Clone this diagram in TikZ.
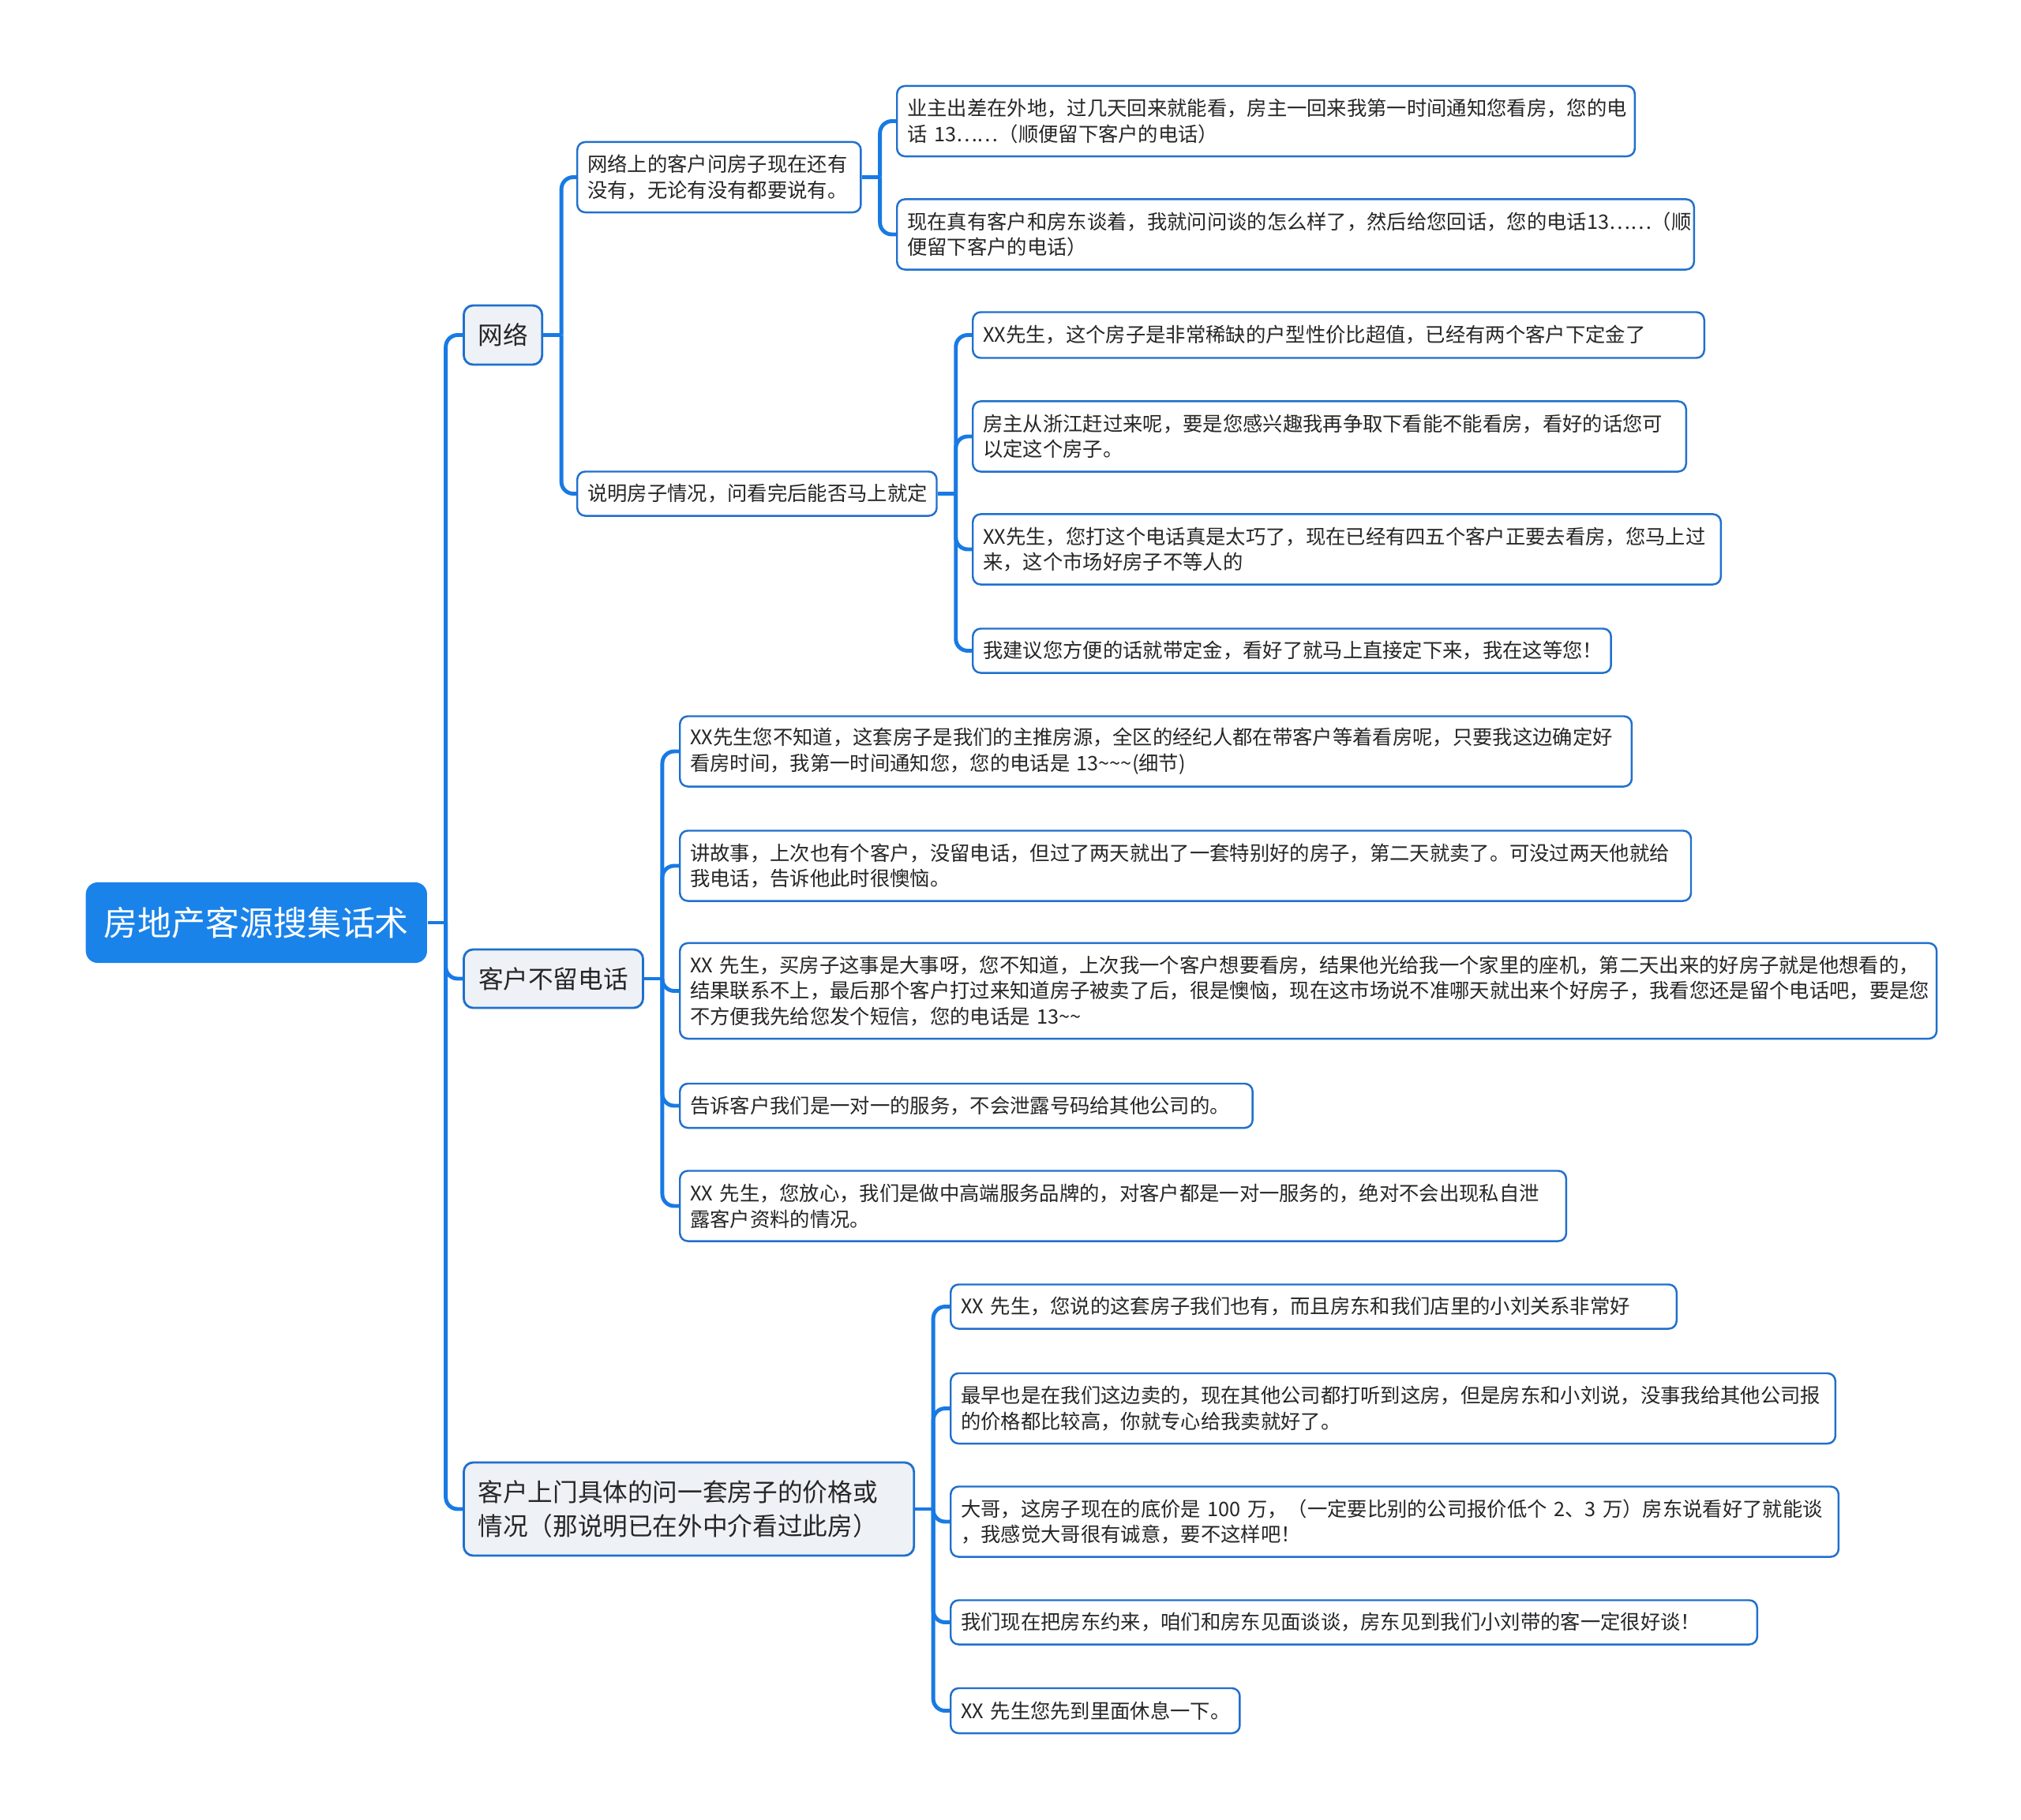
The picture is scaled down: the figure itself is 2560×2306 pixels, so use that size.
\documentclass[tikz,border=0pt]{standalone}
\usepackage{fontspec}
\setmainfont{Noto Sans CJK SC}
\definecolor{linkblue}{RGB}{24,122,228}
\definecolor{rootblue}{RGB}{26,131,234}
\definecolor{boxblue}{RGB}{32,112,204}
\definecolor{topicgray}{RGB}{238,242,247}
\newcommand{\tld}{\textasciitilde}
\begin{document}
\begin{tikzpicture}[x=0.01cm, y=-0.01cm,
    link/.style={line width=1.4pt, draw=linkblue},
    root/.style={fill=rootblue, text=white, rounded corners=0.15cm, inner sep=0pt,
      minimum width=4.32cm, minimum height=1.02cm, anchor=west,
      font=\fontsize{12.2}{15}\selectfont},
    topic/.style={draw=boxblue, line width=0.8pt, fill=topicgray, rounded corners=0.12cm,
      inner xsep=0.18cm, inner ysep=0pt, align=left, anchor=west, text=black!85,
      font=\fontsize{9}{12.1}\selectfont},
    leaf/.style={draw=boxblue, line width=0.7pt, fill=white, rounded corners=0.1cm,
      inner xsep=0.13cm, inner ysep=0pt, align=left, anchor=west, text=black!85,
      font=\fontsize{7.2}{9.3}\selectfont}]
  \useasboundingbox (0,0) rectangle (2560,2306);

  \node[root] (root) at (108,1169) {房地产客源搜集话术};

  \node[topic, minimum width=0.98cm, minimum height=0.75cm] (l1) at (586,424.5) {网络};
  \node[topic, minimum width=2.27cm, minimum height=0.74cm] (l2) at (586,1240) {客户不留电话};
  \node[topic, text width=5.34cm, minimum height=1.18cm] (l3) at (586,1912)
    {客户上门具体的问一套房子的价格或\\情况（那说明已在外中介看过此房）};

  \node[leaf, text width=3.33cm, minimum height=0.89cm] (n1) at (730,224.5)
    {网络上的客户问房子现在还有\\没有，无论有没有都要说有。};
  \node[leaf, text width=4.29cm, minimum height=0.56cm] (n2) at (730,625.5)
    {说明房子情况，问看完后能否马上就定};

  \node[leaf, text width=9.08cm, minimum height=0.89cm] (a1) at (1135,153.5)
    {业主出差在外地，过几天回来就能看，房主一回来我第一时间通知您看房，您的电\\话~13……（顺便留下客户的电话）};
  \node[leaf, text width=9.83cm, minimum height=0.89cm] (a2) at (1135,297)
    {现在真有客户和房东谈着，我就问问谈的怎么样了，然后给您回话，您的电话13……（顺\\便留下客户的电话）};

  \node[leaf, text width=9.00cm, minimum height=0.58cm] (b1) at (1231,424.5)
    {XX先生，这个房子是非常稀缺的户型性价比超值，已经有两个客户下定金了};
  \node[leaf, text width=8.77cm, minimum height=0.89cm] (b2) at (1231,553)
    {房主从浙江赶过来呢，要是您感兴趣我再争取下看能不能看房，看好的话您可\\以定这个房子。};
  \node[leaf, text width=9.21cm, minimum height=0.89cm] (b3) at (1231,696)
    {XX先生，您打这个电话真是太巧了，现在已经有四五个客户正要去看房，您马上过\\来，这个市场好房子不等人的};
  \node[leaf, text width=7.82cm, minimum height=0.56cm] (b4) at (1231,824.5)
    {我建议您方便的话就带定金，看好了就马上直接定下来，我在这等您！};

  \node[leaf, text width=11.79cm, minimum height=0.89cm] (c1) at (860,952)
    {XX先生您不知道，这套房子是我们的主推房源，全区的经纪人都在带客户等着看房呢，只要我这边确定好\\看房时间，我第一时间通知您，您的电话是~13\tld\tld\tld(细节)};
  \node[leaf, text width=12.54cm, minimum height=0.89cm] (c2) at (860,1097)
    {讲故事，上次也有个客户，没留电话，但过了两天就出了一套特别好的房子，第二天就卖了。可没过两天他就给\\我电话，告诉他此时很懊恼。};
  \node[leaf, text width=15.65cm, minimum height=1.21cm] (c3) at (860,1255.5)
    {XX~先生，买房子这事是大事呀，您不知道，上次我一个客户想要看房，结果他光给我一个家里的座机，第二天出来的好房子就是他想看的，\\结果联系不上，最后那个客户打过来知道房子被卖了后，很是懊恼，现在这市场说不准哪天就出来个好房子，我看您还是留个电话吧，要是您\\不方便我先给您发个短信，您的电话是~13\tld\tld};
  \node[leaf, text width=6.99cm, minimum height=0.56cm] (c4) at (860,1401)
    {告诉客户我们是一对一的服务，不会泄露号码给其他公司的。};
  \node[leaf, text width=10.96cm, minimum height=0.89cm] (c5) at (860,1528)
    {XX~先生，您放心，我们是做中高端服务品牌的，对客户都是一对一服务的，绝对不会出现私自泄\\露客户资料的情况。};

  \node[leaf, text width=8.93cm, minimum height=0.56cm] (d1) at (1203,1655.5)
    {XX~先生，您说的这套房子我们也有，而且房东和我们店里的小刘关系非常好};
  \node[leaf, text width=10.94cm, minimum height=0.89cm] (d2) at (1203,1784.5)
    {最早也是在我们这边卖的，现在其他公司都打听到这房，但是房东和小刘说，没事我给其他公司报\\的价格都比较高，你就专心给我卖就好了。};
  \node[leaf, text width=10.98cm, minimum height=0.89cm] (d3) at (1203,1928)
    {大哥，这房子现在的底价是~100~万，（一定要比别的公司报价低个~2、3~万）房东说看好了就能谈\\，我感觉大哥很有诚意，要不这样吧！};
  \node[leaf, text width=9.95cm, minimum height=0.56cm] (d4) at (1203,2055.5)
    {我们现在把房东约来，咱们和房东见面谈谈，房东见到我们小刘带的客一定很好谈！};
  \node[leaf, text width=3.40cm, minimum height=0.57cm] (d5) at (1203,2167.5)
    {XX~先生您先到里面休息一下。};

  \foreach \p/\cs in {root/{l1,l2,l3}, l1/{n1,n2}, n1/{a1,a2}, n2/{b1,b2,b3,b4},
      l2/{c1,c2,c3,c4,c5}, l3/{d1,d2,d3,d4,d5}} {
    \draw[link] (\p.east) -- ++(23,0) coordinate (j);
    \foreach \c in \cs
      \draw[link, rounded corners=0.15cm] (j) |- (\c.west);
  }
\end{tikzpicture}
\end{document}
